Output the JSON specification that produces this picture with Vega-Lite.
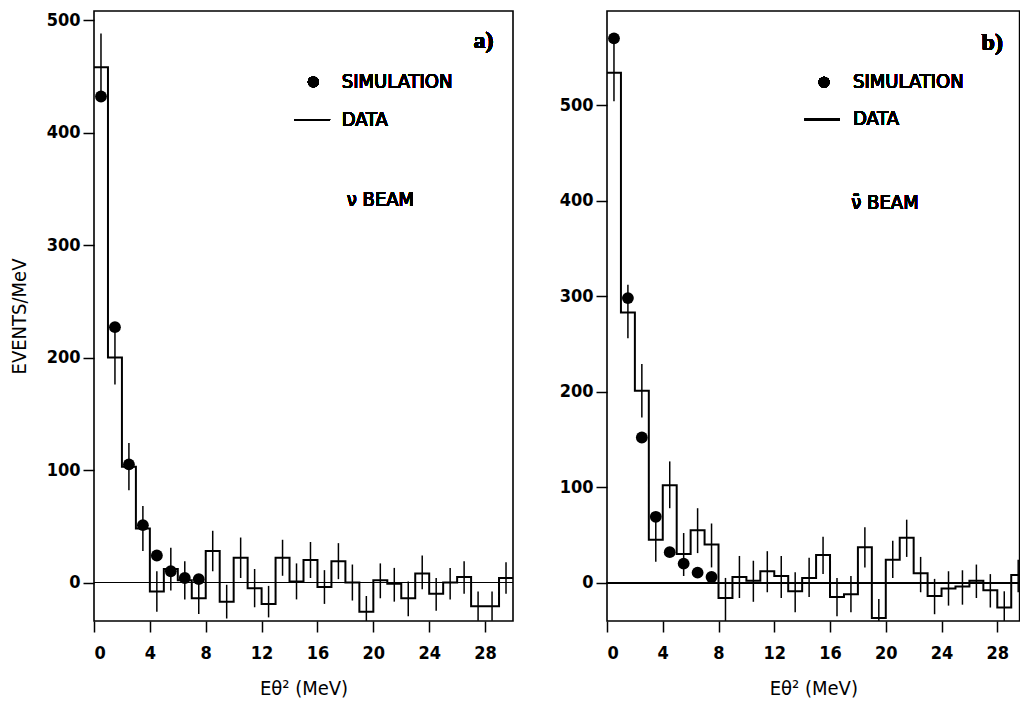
{
  "$schema": "https://vega.github.io/schema/vega-lite/v6.json",
  "background": "white",
  "padding": {"left": 8, "top": 10, "right": 0, "bottom": 0},
  "spacing": 94,
  "bounds": "flush",
  "config": {
    "view": {"stroke": "black", "strokeWidth": 1.6},
    "font": "DejaVu Sans Condensed, DejaVu Sans",
    "axis": {
      "grid": false, "domain": false, "ticks": true, "tickColor": "black", "tickWidth": 1.5, "tickSize": 11,
      "labelColor": "black", "labelFontSize": 18, "labelFontWeight": "bold", "labelFont": "DejaVu Sans Condensed, DejaVu Sans", "labelPadding": 3,
      "titleColor": "black", "titleFontSize": 20, "titleFontWeight": "normal", "titleFont": "DejaVu Sans Condensed, DejaVu Sans"
    },
    "axisX": {"labelPadding": 12, "titlePadding": 16},
    "text": {"font": "DejaVu Sans Condensed, DejaVu Sans", "fontSize": 20, "color": "black"}
  },
  "hconcat": [
    {
      "width": 419,
      "height": 610,
      "data": {"values": [
        {"b": 0, "x0": 0, "x1": 1, "xc": 0.5, "v": 458, "lo": 428, "hi": 488, "sim": 432},
        {"b": 1, "x0": 1, "x1": 2, "xc": 1.5, "v": 200, "lo": 176, "hi": 224, "sim": 227},
        {"b": 2, "x0": 2, "x1": 3, "xc": 2.5, "v": 103, "lo": 82, "hi": 124, "sim": 105},
        {"b": 3, "x0": 3, "x1": 4, "xc": 3.5, "v": 48, "lo": 28, "hi": 68, "sim": 51},
        {"b": 4, "x0": 4, "x1": 5, "xc": 4.5, "v": -8, "lo": -26, "hi": 10, "sim": 24},
        {"b": 5, "x0": 5, "x1": 6, "xc": 5.5, "v": 12, "lo": -7, "hi": 31, "sim": 10},
        {"b": 6, "x0": 6, "x1": 7, "xc": 6.5, "v": 2, "lo": -15, "hi": 19, "sim": 4},
        {"b": 7, "x0": 7, "x1": 8, "xc": 7.5, "v": -14, "lo": -28, "hi": 0, "sim": 3},
        {"b": 8, "x0": 8, "x1": 9, "xc": 8.5, "v": 28, "lo": 10, "hi": 46, "sim": null},
        {"b": 9, "x0": 9, "x1": 10, "xc": 9.5, "v": -17, "lo": -32, "hi": -2, "sim": null},
        {"b": 10, "x0": 10, "x1": 11, "xc": 10.5, "v": 22, "lo": 4, "hi": 40, "sim": null},
        {"b": 11, "x0": 11, "x1": 12, "xc": 11.5, "v": -5, "lo": -22, "hi": 12, "sim": null},
        {"b": 12, "x0": 12, "x1": 13, "xc": 12.5, "v": -19, "lo": -31, "hi": -3, "sim": null},
        {"b": 13, "x0": 13, "x1": 14, "xc": 13.5, "v": 22, "lo": 6, "hi": 38, "sim": null},
        {"b": 14, "x0": 14, "x1": 15, "xc": 14.5, "v": 1, "lo": -15, "hi": 17, "sim": null},
        {"b": 15, "x0": 15, "x1": 16, "xc": 15.5, "v": 20, "lo": 4, "hi": 36, "sim": null},
        {"b": 16, "x0": 16, "x1": 17, "xc": 16.5, "v": -4, "lo": -19, "hi": 11, "sim": null},
        {"b": 17, "x0": 17, "x1": 18, "xc": 17.5, "v": 19, "lo": 3, "hi": 35, "sim": null},
        {"b": 18, "x0": 18, "x1": 19, "xc": 18.5, "v": 0, "lo": -16, "hi": 16, "sim": null},
        {"b": 19, "x0": 19, "x1": 20, "xc": 19.5, "v": -26, "lo": -40, "hi": -12, "sim": null},
        {"b": 20, "x0": 20, "x1": 21, "xc": 20.5, "v": 2, "lo": -14, "hi": 17, "sim": null},
        {"b": 21, "x0": 21, "x1": 22, "xc": 21.5, "v": -1, "lo": -17, "hi": 13, "sim": null},
        {"b": 22, "x0": 22, "x1": 23, "xc": 22.5, "v": -14, "lo": -30, "hi": 1, "sim": null},
        {"b": 23, "x0": 23, "x1": 24, "xc": 23.5, "v": 8, "lo": -6, "hi": 24, "sim": null},
        {"b": 24, "x0": 24, "x1": 25, "xc": 24.5, "v": -10, "lo": -25, "hi": 4, "sim": null},
        {"b": 25, "x0": 25, "x1": 26, "xc": 25.5, "v": 0, "lo": -15, "hi": 13, "sim": null},
        {"b": 26, "x0": 26, "x1": 27, "xc": 26.5, "v": 5, "lo": -10, "hi": 19, "sim": null},
        {"b": 27, "x0": 27, "x1": 28, "xc": 27.5, "v": -21, "lo": -34, "hi": -8, "sim": null},
        {"b": 28, "x0": 28, "x1": 29, "xc": 28.5, "v": -21, "lo": -34, "hi": -8, "sim": null},
        {"b": 29, "x0": 29, "x1": 30, "xc": 29.5, "v": 4, "lo": -10, "hi": 18, "sim": null}
      ]},
      "layer": [
        {
          "transform": [{"fold": ["x0", "x1"], "as": ["edge", "ex"]}],
          "mark": {"type": "line", "color": "black", "strokeWidth": 2, "clip": true},
          "encoding": {
            "x": {"field": "ex", "type": "quantitative", "scale": {"domain": [0, 30], "nice": false, "zero": false},
                  "axis": {"values": [0, 4, 8, 12, 16, 20, 24, 28]}, "title": "Eθ² (MeV)"},
            "y": {"field": "v", "type": "quantitative", "scale": {"domain": [-34.2, 508], "nice": false, "zero": false},
                  "axis": {"values": [0, 100, 200, 300, 400, 500], "titlePadding": 17}, "title": "EVENTS/MeV"},
            "order": [{"field": "b", "type": "quantitative"}, {"field": "edge", "type": "nominal"}]
          }
        },
        {
          "mark": {"type": "rule", "color": "black", "strokeWidth": 1.2},
          "encoding": {"y": {"datum": 0, "type": "quantitative"}}
        },
        {
          "mark": {"type": "rule", "color": "black", "strokeWidth": 1.5, "clip": true},
          "encoding": {
            "x": {"field": "xc", "type": "quantitative"},
            "y": {"field": "lo", "type": "quantitative"},
            "y2": {"field": "hi"}
          }
        },
        {
          "transform": [{"filter": "datum.sim != null"}],
          "mark": {"type": "point", "filled": true, "color": "black", "size": 140, "opacity": 1},
          "encoding": {
            "x": {"field": "xc", "type": "quantitative"},
            "y": {"field": "sim", "type": "quantitative"}
          }
        },
        {
          "mark": {"type": "point", "filled": true, "color": "black", "size": 120, "opacity": 1},
          "encoding": {"x": {"datum": 15.7, "type": "quantitative"}, "y": {"datum": 445, "type": "quantitative"}}
        },
        {
          "mark": {"type": "text", "text": "SIMULATION", "align": "left", "baseline": "middle"},
          "encoding": {"x": {"datum": 17.74, "type": "quantitative"}, "y": {"datum": 445, "type": "quantitative"}}
        },
        {
          "mark": {"type": "rule", "color": "black", "strokeWidth": 1.5},
          "encoding": {"x": {"datum": 14.33, "type": "quantitative"}, "x2": {"datum": 16.9}, "y": {"datum": 411.4, "type": "quantitative"}}
        },
        {
          "mark": {"type": "text", "text": "DATA", "align": "left", "baseline": "middle"},
          "encoding": {"x": {"datum": 17.74, "type": "quantitative"}, "y": {"datum": 411, "type": "quantitative"}}
        },
        {
          "mark": {"type": "text", "text": "ν BEAM", "align": "left", "baseline": "middle"},
          "encoding": {"x": {"datum": 18.1, "type": "quantitative"}, "y": {"datum": 340, "type": "quantitative"}}
        },
        {
          "mark": {"type": "text", "text": "a)", "align": "right", "baseline": "middle", "font": "Liberation Serif", "fontWeight": "bold", "fontSize": 24},
          "encoding": {"x": {"datum": 28.6, "type": "quantitative"}, "y": {"datum": 481, "type": "quantitative"}}
        }
      ]
    },
    {
      "width": 412.6,
      "height": 610,
      "data": {"values": [
        {"b": 0, "x0": 0, "x1": 1, "xc": 0.5, "v": 534, "lo": 504, "hi": 564, "sim": 570},
        {"b": 1, "x0": 1, "x1": 2, "xc": 1.5, "v": 283, "lo": 256, "hi": 312, "sim": 298},
        {"b": 2, "x0": 2, "x1": 3, "xc": 2.5, "v": 201, "lo": 173, "hi": 229, "sim": 152},
        {"b": 3, "x0": 3, "x1": 4, "xc": 3.5, "v": 45, "lo": 22, "hi": 70, "sim": 69},
        {"b": 4, "x0": 4, "x1": 5, "xc": 4.5, "v": 102, "lo": 78, "hi": 127, "sim": 32},
        {"b": 5, "x0": 5, "x1": 6, "xc": 5.5, "v": 30, "lo": 7, "hi": 52, "sim": 20},
        {"b": 6, "x0": 6, "x1": 7, "xc": 6.5, "v": 55, "lo": 31, "hi": 78, "sim": 10.5},
        {"b": 7, "x0": 7, "x1": 8, "xc": 7.5, "v": 40, "lo": 16, "hi": 62, "sim": 6},
        {"b": 8, "x0": 8, "x1": 9, "xc": 8.5, "v": -16, "lo": -40, "hi": 5, "sim": null},
        {"b": 9, "x0": 9, "x1": 10, "xc": 9.5, "v": 6, "lo": -16, "hi": 28, "sim": null},
        {"b": 10, "x0": 10, "x1": 11, "xc": 10.5, "v": 2, "lo": -20, "hi": 23, "sim": null},
        {"b": 11, "x0": 11, "x1": 12, "xc": 11.5, "v": 12, "lo": -10, "hi": 33, "sim": null},
        {"b": 12, "x0": 12, "x1": 13, "xc": 12.5, "v": 7, "lo": -16, "hi": 28, "sim": null},
        {"b": 13, "x0": 13, "x1": 14, "xc": 13.5, "v": -9, "lo": -31, "hi": 11, "sim": null},
        {"b": 14, "x0": 14, "x1": 15, "xc": 14.5, "v": 5, "lo": -15, "hi": 26, "sim": null},
        {"b": 15, "x0": 15, "x1": 16, "xc": 15.5, "v": 29, "lo": 9, "hi": 48, "sim": null},
        {"b": 16, "x0": 16, "x1": 17, "xc": 16.5, "v": -15, "lo": -35, "hi": 5, "sim": null},
        {"b": 17, "x0": 17, "x1": 18, "xc": 17.5, "v": -12, "lo": -31, "hi": 7, "sim": null},
        {"b": 18, "x0": 18, "x1": 19, "xc": 18.5, "v": 37, "lo": 16, "hi": 58, "sim": null},
        {"b": 19, "x0": 19, "x1": 20, "xc": 19.5, "v": -37, "lo": -40, "hi": -17, "sim": null},
        {"b": 20, "x0": 20, "x1": 21, "xc": 20.5, "v": 24, "lo": 5, "hi": 44, "sim": null},
        {"b": 21, "x0": 21, "x1": 22, "xc": 21.5, "v": 47, "lo": 27, "hi": 66, "sim": null},
        {"b": 22, "x0": 22, "x1": 23, "xc": 22.5, "v": 10, "lo": -10, "hi": 27, "sim": null},
        {"b": 23, "x0": 23, "x1": 24, "xc": 23.5, "v": -14, "lo": -33, "hi": 4, "sim": null},
        {"b": 24, "x0": 24, "x1": 25, "xc": 24.5, "v": -6, "lo": -24, "hi": 12, "sim": null},
        {"b": 25, "x0": 25, "x1": 26, "xc": 25.5, "v": -4, "lo": -23, "hi": 13, "sim": null},
        {"b": 26, "x0": 26, "x1": 27, "xc": 26.5, "v": 2, "lo": -16, "hi": 19, "sim": null},
        {"b": 27, "x0": 27, "x1": 28, "xc": 27.5, "v": -8, "lo": -26, "hi": 9, "sim": null},
        {"b": 28, "x0": 28, "x1": 29, "xc": 28.5, "v": -26, "lo": -40, "hi": -9, "sim": null},
        {"b": 29, "x0": 29, "x1": 30, "xc": 29.5, "v": 8, "lo": -10, "hi": 24, "sim": null}
      ]},
      "layer": [
        {
          "transform": [{"fold": ["x0", "x1"], "as": ["edge", "ex"]}],
          "mark": {"type": "line", "color": "black", "strokeWidth": 2, "clip": true},
          "encoding": {
            "x": {"field": "ex", "type": "quantitative", "scale": {"domain": [0, 29.6], "nice": false, "zero": false},
                  "axis": {"values": [0, 4, 8, 12, 16, 20, 24, 28]}, "title": "Eθ² (MeV)"},
            "y": {"field": "v", "type": "quantitative", "scale": {"domain": [-40.1, 598.6], "nice": false, "zero": false},
                  "axis": {"values": [0, 100, 200, 300, 400, 500], "title": null}},
            "order": [{"field": "b", "type": "quantitative"}, {"field": "edge", "type": "nominal"}]
          }
        },
        {
          "mark": {"type": "rule", "color": "black", "strokeWidth": 1.2},
          "encoding": {"y": {"datum": 0, "type": "quantitative"}}
        },
        {
          "mark": {"type": "rule", "color": "black", "strokeWidth": 1.5, "clip": true},
          "encoding": {
            "x": {"field": "xc", "type": "quantitative"},
            "y": {"field": "lo", "type": "quantitative"},
            "y2": {"field": "hi"}
          }
        },
        {
          "transform": [{"filter": "datum.sim != null"}],
          "mark": {"type": "point", "filled": true, "color": "black", "size": 140, "opacity": 1},
          "encoding": {
            "x": {"field": "xc", "type": "quantitative"},
            "y": {"field": "sim", "type": "quantitative"}
          }
        },
        {
          "mark": {"type": "point", "filled": true, "color": "black", "size": 120, "opacity": 1},
          "encoding": {"x": {"datum": 15.57, "type": "quantitative"}, "y": {"datum": 524, "type": "quantitative"}}
        },
        {
          "mark": {"type": "text", "text": "SIMULATION", "align": "left", "baseline": "middle"},
          "encoding": {"x": {"datum": 17.65, "type": "quantitative"}, "y": {"datum": 524, "type": "quantitative"}}
        },
        {
          "mark": {"type": "rule", "color": "black", "strokeWidth": 1.5},
          "encoding": {"x": {"datum": 14.18, "type": "quantitative"}, "x2": {"datum": 16.7}, "y": {"datum": 485, "type": "quantitative"}}
        },
        {
          "mark": {"type": "text", "text": "DATA", "align": "left", "baseline": "middle"},
          "encoding": {"x": {"datum": 17.65, "type": "quantitative"}, "y": {"datum": 485, "type": "quantitative"}}
        },
        {
          "mark": {"type": "text", "text": "ν̄ BEAM", "align": "left", "baseline": "middle"},
          "encoding": {"x": {"datum": 17.53, "type": "quantitative"}, "y": {"datum": 398, "type": "quantitative"}}
        },
        {
          "mark": {"type": "text", "text": "b)", "align": "right", "baseline": "middle", "font": "Liberation Serif", "fontWeight": "bold", "fontSize": 24},
          "encoding": {"x": {"datum": 28.4, "type": "quantitative"}, "y": {"datum": 565, "type": "quantitative"}}
        }
      ]
    }
  ]
}
